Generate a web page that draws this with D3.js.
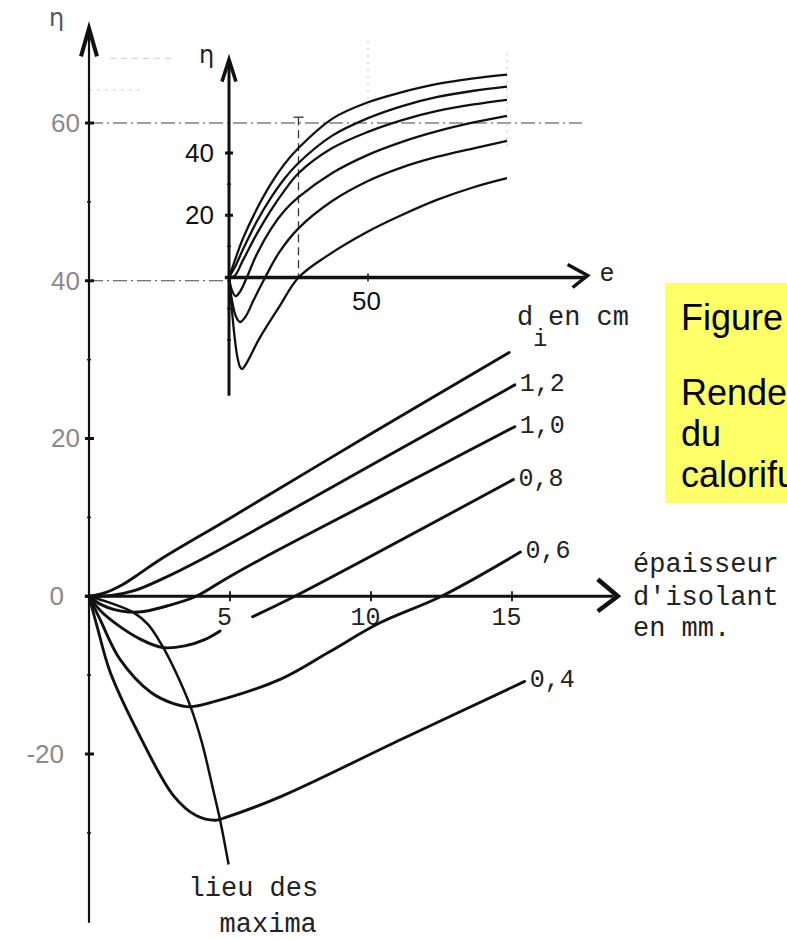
<!DOCTYPE html>
<html>
<head>
<meta charset="utf-8">
<script src="https://cdn.jsdelivr.net/npm/d3@7"></script>
<style>
body { margin: 0; background: #fff; }
</style>
</head>
<body>
<script>
// rendement eta vs epaisseur d'isolant (mm), one curve per diametre d_i (cm)
var mmTicks = [5, 10, 15];
var etaTicks = [-20, 0, 20, 40, 60];
var etaMinor = [-30, -10, 10, 30, 50];
var insetEtaTicks = [20, 40];
var insetEtaMinor = [-20, -10, 10, 30];
var insetETicks = [50];
var curveLabels = ["1,2", "1,0", "0,8", "0,6", "0,4"];

// main chart: [mm, eta]
var lineTop = [[0, 0], [0.6, 0.5], [1.2, 1.5], [1.8, 2.9], [2.5, 4.6], [5, 9.9], [10, 20.6], [14.9, 30.9]];
var line12 = [[0, 0], [0.8, 0.1], [1.6, 0.7], [2.6, 2.2], [4, 4.7], [7, 10.6], [10, 16.6], [15.1, 26.8]];
var line10 = [[0, 0], [0.4, -1.0], [0.9, -1.7], [1.4, -2.0], [2.0, -1.9], [2.8, -1.2], [3.8, 0], [4.8, 2.1], [6.1, 4.7], [10, 12.0], [15.1, 21.5]];
var line08a = [[0, 0], [0.4, -1.8], [1.0, -3.6], [1.8, -5.4], [2.6, -6.5], [3.4, -6.3], [4.1, -5.5], [4.65, -4.4]];
var line08b = [[5.8, -2.6], [7.3, 0], [15.05, 14.8]];
var line06 = [[0, 0], [0.4, -3], [1.1, -8], [2.2, -12.2], [3.0, -13.6], [3.6, -14.0], [4.4, -13.4], [6.8, -10.5], [8.5, -7.1], [10.3, -3.4], [12.5, 0], [15.3, 5.6]];
var line04 = [[0, 0], [0.3, -4], [0.75, -9.6], [1.8, -17.7], [3.0, -25.3], [3.8, -27.8], [4.5, -28.4], [4.8, -28.1], [6.8, -25.4], [11.1, -18.1], [15.45, -10.8]];
var lieu = [[0, 0], [0.8, -0.9], [1.6, -2.1], [2.1, -3.6], [2.6, -6.3], [3.1, -9.8], [3.6, -14.0], [4.0, -18.5], [4.4, -24.5], [4.65, -28.4], [4.95, -34.0]];

// inset: [e, eta]
var inset1 = [[0, 0], [2.5, 6.5], [5, 12.5], [10, 22], [15, 30], [20, 36.5], [25, 41.6], [37.5, 51.2], [50, 56.3], [62, 59.5], [75, 62.2], [88, 64], [100, 65.2]];
var inset2 = [[0, 0], [2.5, 4], [5, 9], [10, 18], [15, 25.5], [20, 31.8], [25, 36.8], [37, 45.5], [50, 51.2], [62, 55], [75, 58], [88, 60], [100, 61.3]];
var inset3 = [[0, 0], [2, 0.5], [5, 5.5], [10, 14], [15, 21.5], [20, 28], [25, 33.5], [37, 41.5], [50, 46.8], [62, 50.5], [75, 53.5], [88, 55.6], [100, 57.1]];
var inset4 = [[0, 0], [1, -4], [2.4, -6], [4, -4.5], [6.4, 0], [10, 7.5], [15, 15.5], [20, 21.5], [25, 25.8], [37, 33.5], [50, 39.4], [62, 43.5], [75, 47], [88, 49.8], [100, 51.9]];
var inset5 = [[0, 0], [1, -7], [2.5, -12.5], [4, -14.3], [6, -12.5], [9, -7], [13, 0], [18, 8], [25, 15.8], [37, 24.5], [50, 31], [62, 35.3], [75, 38.8], [88, 41.5], [100, 43.9]];
var inset6 = [[0, 0], [1, -10], [2, -19], [3, -25.5], [4, -28.8], [4.7, -29.4], [6, -28], [11, -19.5], [18, -9.5], [25, 0], [35, 6.8], [50, 14.8], [62, 20], [75, 25], [88, 29], [100, 31.9]];

var mono = "Liberation Mono, Courier New, monospace";
var sans = "Liberation Sans, Arial, sans-serif";
var ink = "#111";

var svg = d3.select("body").append("svg")
    .attr("width", 787)
    .attr("height", 939);

var x = d3.scaleLinear().domain([0, 15]).range([89, 512]);
var y = d3.scaleLinear().domain([-20, 60]).range([754, 123]);
var xi = d3.scaleLinear().domain([0, 50]).range([229, 368]);
var yi = d3.scaleLinear().domain([0, 40]).range([277.5, 153]);

function seg(g, x1, y1, x2, y2, w, dash, col) {
    return g.append("line")
        .attr("x1", x1).attr("y1", y1).attr("x2", x2).attr("y2", y2)
        .attr("stroke", col || ink).attr("stroke-width", w)
        .attr("stroke-dasharray", dash || null);
}

// faint guide lines (dash-dot / dotted)
var guides = svg.append("g");
seg(guides, x(0), y(60), xi(127), y(60), 1.2, "14,4,2,4", "#444");
seg(guides, x(0), y(40), xi(0), y(40), 1.2, "14,4,2,4", "#444");
seg(guides, xi(25), yi(51.5), xi(25), yi(0), 1.3, "8,5", "#333");
seg(guides, xi(25) - 5, yi(51.5), xi(25) + 5, yi(51.5), 1.3, null, "#333");
seg(guides, xi(50), yi(76), xi(50), yi(55), 1, "2,5", "#bbb");
seg(guides, xi(100), yi(72), xi(100), yi(42), 1, "2,5", "#bbb");
seg(guides, x(0.75), y(68.2), x(3.05), y(68.2), 1, "6,5", "#ccc");
seg(guides, x(0), y(64.2), x(1.8), y(64.2), 1, "3,5", "#ccc");

// main axes
var axes = svg.append("g");
seg(axes, x(0), y(-41.4), x(0), y(71.5), 2.2);
axes.append("path")
    .attr("d", "M" + (x(0) - 8) + "," + (y(72) + 28) + "L" + x(0) + "," + y(72) + "L" + (x(0) + 8) + "," + (y(72) + 28))
    .attr("fill", "none").attr("stroke", ink).attr("stroke-width", 4);
seg(axes, x(-0.15), y(0), x(18.6), y(0), 3.2);
axes.append("path")
    .attr("d", "M" + (x(18.75) - 20) + "," + (y(0) - 17) + "L" + x(18.75) + "," + y(0) + "L" + (x(18.75) - 20) + "," + (y(0) + 15))
    .attr("fill", "none").attr("stroke", ink).attr("stroke-width", 4.5);

etaTicks.forEach(function (v) { seg(axes, x(0) - 4, y(v), x(0) + 5, y(v), 3); });
etaMinor.forEach(function (v) { seg(axes, x(0) - 2, y(v), x(0) + 2, y(v), 1.5); });
mmTicks.forEach(function (v) { seg(axes, x(v), y(0) - 5, x(v), y(0) + 5, 1.8); });

var gy = svg.append("g")
    .attr("transform", "translate(" + x(0) + ",0)")
    .call(d3.axisLeft(y).tickValues(etaTicks).tickSize(0).tickPadding(9)
        .tickFormat(function (d) { return String(d); }));
gy.select(".domain").remove();
gy.selectAll("text")
    .attr("font-family", sans).attr("font-size", 26).attr("fill", "#8a8a8a")
    .attr("x", function (d) { return d <= 0 ? -25 : -9; });

var gx = svg.append("g")
    .attr("transform", "translate(0," + y(0) + ")")
    .call(d3.axisBottom(x).tickValues(mmTicks).tickSize(0).tickPadding(11));
gx.select(".domain").remove();
gx.selectAll("text")
    .attr("font-family", mono).attr("font-size", 25).attr("fill", "#222")
    .attr("dx", -6);

svg.append("text").attr("x", 49).attr("y", 26).text("η")
    .attr("font-family", "DejaVu Sans, sans-serif").attr("font-size", 24).attr("fill", "#555");

// inset axes
var inset = svg.append("g");
seg(inset, xi(0), yi(-38), xi(0), yi(69.5), 3);
inset.append("path")
    .attr("d", "M" + (xi(0) - 7) + "," + (yi(70) + 22) + "L" + xi(0) + "," + yi(70) + "L" + (xi(0) + 7) + "," + (yi(70) + 22))
    .attr("fill", "none").attr("stroke", ink).attr("stroke-width", 3.5);
seg(inset, xi(-1.5), yi(0), xi(128), yi(0), 3.5);
inset.append("path")
    .attr("d", "M" + (xi(129) - 20) + "," + (yi(0) - 13) + "L" + xi(129) + "," + (yi(0) - 2) + "L" + (xi(129) - 15) + "," + (yi(0) + 10))
    .attr("fill", "none").attr("stroke", ink).attr("stroke-width", 3.5);
insetEtaTicks.forEach(function (v) { seg(inset, xi(0) - 4, yi(v), xi(0) + 4, yi(v), 3); });
insetEtaMinor.forEach(function (v) { seg(inset, xi(0) - 2, yi(v), xi(0) + 2, yi(v), 1.5); });
insetETicks.forEach(function (v) { seg(inset, xi(v), yi(0) - 4, xi(v), yi(0) + 4, 1.5); });

var giy = svg.append("g")
    .attr("transform", "translate(" + xi(0) + ",0)")
    .call(d3.axisLeft(yi).tickValues(insetEtaTicks).tickSize(0).tickPadding(15));
giy.select(".domain").remove();
giy.selectAll("text").attr("font-family", sans).attr("font-size", 26).attr("fill", "#111");

var gix = svg.append("g")
    .attr("transform", "translate(0," + yi(0) + ")")
    .call(d3.axisBottom(xi).tickValues(insetETicks).tickSize(0).tickPadding(14));
gix.select(".domain").remove();
gix.selectAll("text").attr("font-family", sans).attr("font-size", 26).attr("fill", "#111").attr("dx", -2);

svg.append("text").attr("x", 199).attr("y", 63).text("η")
    .attr("font-family", "DejaVu Sans, sans-serif").attr("font-size", 24).attr("fill", "#222");
svg.append("text").attr("x", xi(129) + 12).attr("y", yi(0) + 3).text("e")
    .attr("font-family", mono).attr("font-size", 25).attr("fill", "#222");

// curves
var mainLine = d3.line()
    .x(function (d) { return x(d[0]); })
    .y(function (d) { return y(d[1]); })
    .curve(d3.curveCatmullRom.alpha(0.5));
var insetLine = d3.line()
    .x(function (d) { return xi(d[0]); })
    .y(function (d) { return yi(d[1]); })
    .curve(d3.curveCatmullRom.alpha(0.5));

var mainSeries = [lineTop, line12, line10, line08a, line08b, line06, line04];
svg.append("g").selectAll("path")
    .data(mainSeries)
    .enter().append("path")
    .attr("d", mainLine)
    .attr("fill", "none").attr("stroke", ink).attr("stroke-width", 2.9)
    .attr("stroke-linecap", "round");

svg.append("path").datum(lieu)
    .attr("d", mainLine)
    .attr("fill", "none").attr("stroke", ink).attr("stroke-width", 2.5);

var insetSeries = [inset1, inset2, inset3, inset4, inset5, inset6];
svg.append("g").selectAll("path")
    .data(insetSeries)
    .enter().append("path")
    .attr("d", insetLine)
    .attr("fill", "none").attr("stroke", ink).attr("stroke-width", 2.3);

// curve labels next to line ends
var labelled = [line12, line10, line08b, line06, line04];
svg.append("g").selectAll("text")
    .data(labelled)
    .enter().append("text")
    .attr("x", function (d) { return x(d[d.length - 1][0]) + 5; })
    .attr("y", function (d) { return y(d[d.length - 1][1]) + 6; })
    .text(function (d, i) { return curveLabels[i]; })
    .attr("font-family", mono).attr("font-size", 25).attr("fill", "#222");

var txt = svg.append("g").attr("font-family", mono).attr("font-size", 27).attr("fill", "#222");
txt.append("text").attr("x", 517).attr("y", 325).text("d");
txt.append("text").attr("x", 548).attr("y", 325).text("en cm");
txt.append("text").attr("x", 533).attr("y", 346).attr("font-size", 24).text("i");
txt.append("text").attr("x", 633).attr("y", 572).text("épaisseur");
txt.append("text").attr("x", 633).attr("y", 605).text("d'isolant");
txt.append("text").attr("x", 633).attr("y", 636).text("en mm.");
var lieuEnd = lieu[lieu.length - 1];
txt.append("text").attr("x", x(lieuEnd[0]) - 40).attr("y", y(lieuEnd[1]) + 32).text("lieu des");
txt.append("text").attr("x", x(lieuEnd[0]) - 9).attr("y", y(lieuEnd[1]) + 68).text("maxima");

// yellow caption box (runs past the page edge, as in the scan)
var box = svg.append("g");
box.append("rect").attr("x", 665).attr("y", 283).attr("width", 200).attr("height", 220).attr("fill", "#ffff66");
var cap = box.append("g").attr("font-family", sans).attr("font-size", 36).attr("fill", "#000");
cap.append("text").attr("x", 681).attr("y", 330).text("Figure");
cap.append("text").attr("x", 681).attr("y", 405).text("Rendement");
cap.append("text").attr("x", 681).attr("y", 446).text("du");
cap.append("text").attr("x", 681).attr("y", 487).text("calorifuge");
</script>
</body>
</html>
